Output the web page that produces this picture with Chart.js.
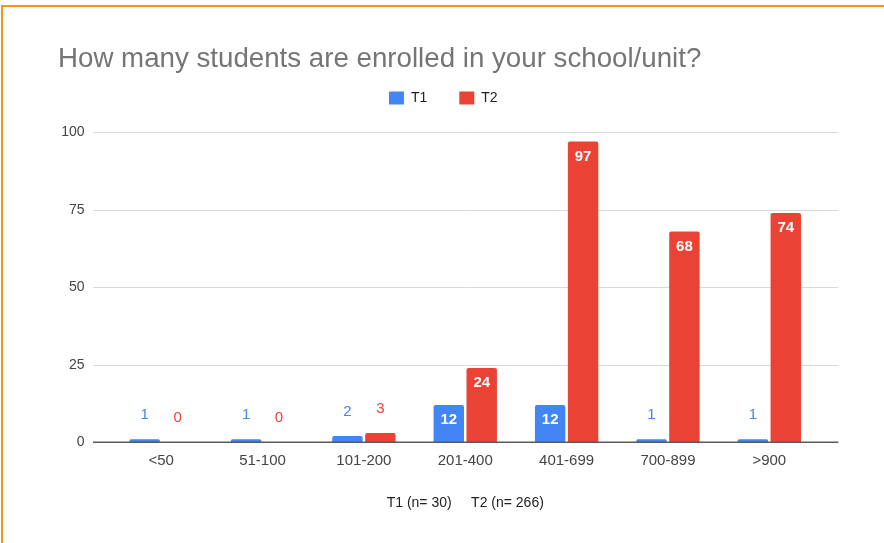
<!DOCTYPE html>
<html><head><meta charset="utf-8">
<script src="https://cdn.jsdelivr.net/npm/chart.js@4.4.0/dist/chart.umd.min.js"></script>
<style>
html,body{margin:0;padding:0;background:#fff;}
#wrap{position:relative;width:884px;height:543px;overflow:hidden;background:#fff;}
#frame{position:absolute;left:1px;top:5px;right:-10px;bottom:-10px;border-top:2px solid #F7941D;border-left:2px solid #F7941D;pointer-events:none;}
canvas{position:absolute;left:0;top:0;}
</style></head><body>
<div id="wrap"><canvas id="c" width="884" height="543"></canvas><div id="frame"></div></div>
<script>
const categories = ['<50', '51-100', '101-200', '201-400', '401-699', '700-899', '>900'];
const t1Values = [1, 1, 2, 12, 12, 1, 1];
const t2Values = [0, 0, 3, 24, 97, 68, 74];
const seriesNames = ['T1', 'T2'];
const yTicks = [0, 25, 50, 75, 100];
const titleText = 'How many students are enrolled in your school/unit?';
const xAxisTitle = 'T1 (n= 30)     T2 (n= 266)';

const FONT = "'Liberation Sans', Arial, Helvetica, sans-serif";
Chart.defaults.font.family = FONT;
const BLUE = '#4285F4', RED = '#EA4335';
const PAD_LEFT = 40;

const gridPlugin = {
  id: 'gridPlugin',
  beforeDatasetsDraw(chart) {
    const ctx = chart.ctx, y = chart.scales.y, a = chart.chartArea;
    const x0 = a.left - 17.5, x1 = a.right + 18.3;
    ctx.save();
    ctx.strokeStyle = '#d9d9d9';
    ctx.lineWidth = 1;
    yTicks.forEach(v => {
      if (v === 0) return;
      const py = Math.round(y.getPixelForValue(v)) + 0.5;
      ctx.beginPath(); ctx.moveTo(x0, py); ctx.lineTo(x1, py); ctx.stroke();
    });
    ctx.restore();
  },
  afterDatasetsDraw(chart) {
    const ctx = chart.ctx, y = chart.scales.y, a = chart.chartArea;
    const x0 = a.left - 17.5, x1 = a.right + 18.3;
    ctx.save();
    ctx.strokeStyle = '#5a5a5a';
    ctx.lineWidth = 1.5;
    const py = y.getPixelForValue(0);
    ctx.beginPath(); ctx.moveTo(x0, py); ctx.lineTo(x1, py); ctx.stroke();
    chart.data.datasets.forEach((ds, di) => {
      const meta = chart.getDatasetMeta(di);
      meta.data.forEach((bar, i) => {
        const v = ds.data[i];
        const p = bar.getProps(['x', 'y'], true);
        ctx.textAlign = 'center';
        ctx.textBaseline = 'middle';
        if (v >= 10) {
          ctx.font = 'bold 15px ' + FONT;
          ctx.fillStyle = '#ffffff';
          ctx.fillText(String(v), p.x, p.y + 15);
        } else {
          ctx.font = '15px ' + FONT;
          ctx.fillStyle = ds.backgroundColor;
          ctx.fillText(String(v), p.x, p.y - 24.5);
        }
      });
    });
    ctx.restore();
  },
  afterDraw(chart) {
    const ctx = chart.ctx;
    ctx.save();
    ctx.font = '27.7px ' + FONT;
    ctx.fillStyle = '#757575';
    ctx.textAlign = 'left';
    ctx.textBaseline = 'alphabetic';
    ctx.fillText(titleText, 58, 66.7);
    ctx.restore();
  },
  beforeLayout(chart) {
    const lg = chart.legend;
    if (lg && !lg._patched) {
      const orig = lg.fit;
      lg.fit = function () { orig.call(this); this.height += 17.3; };
      lg._patched = true;
    }
  },
  afterLayout(chart) {
    const lg = chart.legend;
    if (lg) { lg.left += 13.3; lg.right += 13.3; }
  }
};

new Chart(document.getElementById('c'), {
  type: 'bar',
  data: {
    labels: categories,
    datasets: [
      { label: seriesNames[0], data: t1Values, backgroundColor: BLUE, borderRadius: 2, categoryPercentage: 0.65, barPercentage: 0.924 },
      { label: seriesNames[1], data: t2Values, backgroundColor: RED, borderRadius: 2, categoryPercentage: 0.65, barPercentage: 0.924 }
    ]
  },
  options: {
    responsive: false,
    animation: false,
    devicePixelRatio: 1,
    layout: { padding: { top: 59, left: PAD_LEFT, right: 64, bottom: 31.3 } },
    plugins: {
      title: { display: false },
      tooltip: { enabled: false },
      legend: {
        display: true,
        position: 'top',
        labels: { boxWidth: 15, boxHeight: 13, padding: 32, color: '#222', font: { size: 14 } }
      }
    },
    scales: {
      x: {
        grid: { display: false, drawTicks: false },
        border: { display: false },
        ticks: { color: '#444', font: { size: 15 }, padding: 9.6, maxRotation: 0 },
        title: { display: true, text: xAxisTitle, color: '#222', font: { size: 14 }, padding: { top: 15.4, bottom: 0 } }
      },
      y: {
        min: 0, max: 100,
        afterFit(s) { s.width = 110.5 - PAD_LEFT; },
        afterBuildTicks(s) { s.ticks = yTicks.map(v => ({ value: v })); },
        grid: { display: false, drawTicks: false },
        border: { display: false },
        ticks: { color: '#444', font: { size: 14 }, padding: 26 }
      }
    }
  },
  plugins: [gridPlugin]
});
</script>
</body></html>
